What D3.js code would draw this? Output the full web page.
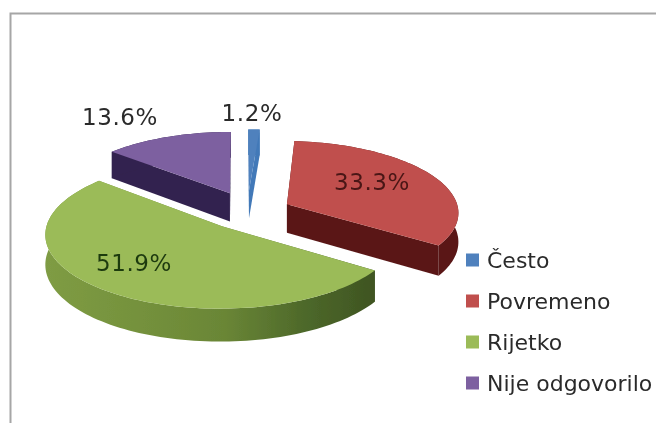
<!DOCTYPE html>
<html>
<head>
<meta charset="utf-8">
<script src="https://cdn.jsdelivr.net/npm/d3@7"></script>
<style>
  html, body { margin: 0; padding: 0; background: #fff; }
  svg { display: block; }
  text { font-family: "DejaVu Sans", sans-serif; }
</style>
</head>
<body>
<svg id="chart"></svg>
<script>
// Data
const categories = ["Često", "Povremeno", "Rijetko", "Nije odgovorilo"];
const shares = [1.2, 33.3, 51.9, 13.6];

// Colours per slice
const topColors = ["#4f81bd", "#c0504d", "#9bbb59", "#7d60a0"];
const sideColors = ["#4379b8", "#5a1818", "#4a5f28", "#33234f"];

// How far each slice is pulled out, in pie radii on the ground plane
const explodeU = [0.054, 0.276, -0.103, -0.060];
const explodeV = [-0.316, -0.112, 0.198, -0.271];

// Label centres
const labelX = [252, 372, 134, 120];
const labelY = [113, 182, 263, 117];
const labelColors = ["#2b2b2b", "#4a1616", "#1f3a10", "#2b2b2b"];

const width = 656;
const height = 423;

// Perspective of the pie
const cx = 240, cy = 212, rx = 172, ry = 71, k = 0.1, depth = 29;

function project(u, v, drop) {
    const s = 1 / (1 - k * v);
    return [cx + rx * u * s, cy + ry * v * s + (drop ? depth * s : 0)];
}

const svg = d3.select("#chart")
    .attr("width", width)
    .attr("height", height);

const defs = svg.append("defs");

defs.append("filter").attr("id", "soft")
    .append("feGaussianBlur").attr("stdDeviation", 0.45);

// Rim of the green slice darkens to the right
const rimGrad = defs.append("linearGradient")
    .attr("id", "greenRim")
    .attr("gradientUnits", "userSpaceOnUse")
    .attr("x1", 44).attr("x2", 372).attr("y1", 0).attr("y2", 0);
[[0, "#7f9c44"], [0.3, "#74913c"], [0.55, "#6a8636"], [0.8, "#4d682a"], [1, "#3f5522"]]
    .forEach(d => rimGrad.append("stop").attr("offset", d[0]).attr("stop-color", d[1]));

const root = svg.append("g").attr("filter", "url(#soft)");

// Chart frame, only left and top show
root.append("path")
    .attr("d", `M10.5,${height} V13.5 H${width}`)
    .attr("fill", "none")
    .attr("stroke", "#a6a6a6")
    .attr("stroke-width", 2);

const pie = d3.pie().value(d => d).sort(null);
const arcs = pie(shares);
const line = d3.line();

// Outline of a slice on the ground plane, apex first
function outline(d, i) {
    const steps = Math.max(2, Math.ceil((d.endAngle - d.startAngle) / 0.03));
    const pts = [[explodeU[i], explodeV[i]]];
    d3.range(steps + 1).forEach(n => {
        const a = d.startAngle + (d.endAngle - d.startAngle) * n / steps;
        pts.push([explodeU[i] + Math.sin(a), explodeV[i] - Math.cos(a)]);
    });
    return pts;
}

// Draw back to front
[3, 0, 1, 2].forEach(i => {
    const pts = outline(arcs[i], i);
    const g = root.append("g").attr("class", "slice");
    const side = i === 2 ? "url(#greenRim)" : sideColors[i];
    const apex = pts[0];
    const rim = pts.slice(1);
    const last = rim[rim.length - 1];

    // Walls: the two cut faces and the rim, the top face covers what is hidden
    const walls = [
        [apex, rim[0]],
        [apex, last],
        rim
    ];
    walls.forEach(w => {
        const upper = w.map(p => project(p[0], p[1]));
        const lower = w.map(p => project(p[0], p[1], true)).reverse();
        g.append("path")
            .attr("d", line(upper.concat(lower)) + "Z")
            .attr("fill", side);
    });

    g.append("path")
        .attr("d", line(pts.map(p => project(p[0], p[1]))) + "Z")
        .attr("fill", topColors[i]);
});

// Value labels
root.selectAll(".value")
    .data(shares)
    .enter()
    .append("text")
    .attr("class", "value")
    .attr("x", (d, i) => labelX[i])
    .attr("y", (d, i) => labelY[i])
    .attr("dy", "0.36em")
    .attr("text-anchor", "middle")
    .style("font-size", "23px")
    .style("letter-spacing", "0.6px")
    .style("fill", (d, i) => labelColors[i])
    .text(d => d.toFixed(1) + "%");

// Legend
const legendY = d3.scalePoint().domain(categories).range([260, 383]);

const legendItems = root.selectAll(".legend-item")
    .data(categories)
    .enter()
    .append("g")
    .attr("class", "legend-item")
    .attr("transform", d => `translate(466, ${legendY(d)})`);

legendItems.append("rect")
    .attr("y", -6.5)
    .attr("width", 13)
    .attr("height", 13)
    .attr("fill", (d, i) => topColors[i]);

legendItems.append("text")
    .attr("x", 21)
    .attr("dy", "0.36em")
    .style("font-size", "22px")
    .style("fill", "#2b2b2b")
    .text(d => d);
</script>
</body>
</html>
